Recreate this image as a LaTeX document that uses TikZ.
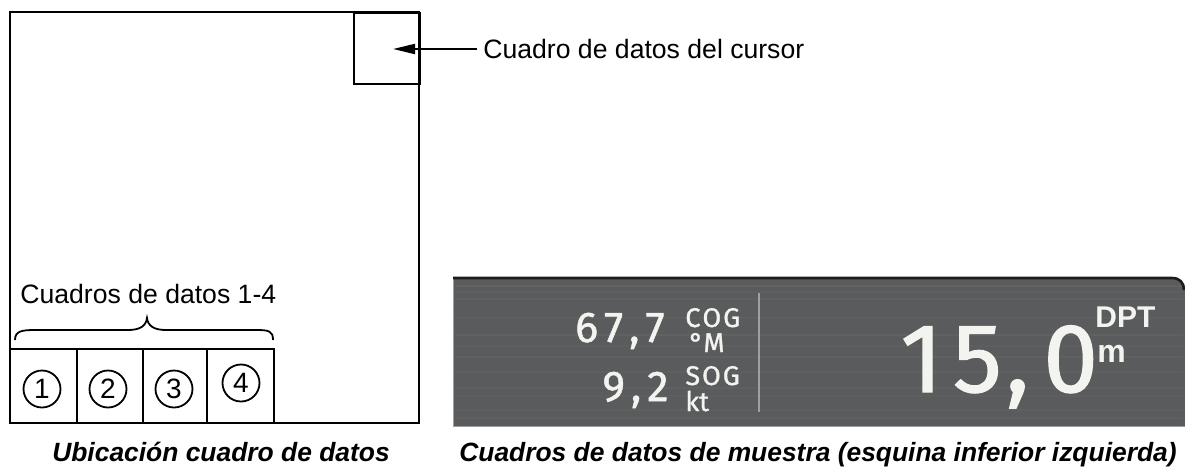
\documentclass[tikz,border=0pt]{standalone}
\usepackage{fontspec}
\setmainfont{Liberation Sans}
\newfontfamily\panelfont[FakeBold=1.2]{Fira Sans}
\usetikzlibrary{arrows.meta}
\definecolor{panelbg}{HTML}{5A5B5D}
\definecolor{panelln}{HTML}{636466}
\definecolor{paneldk}{HTML}{1C1C1C}
\definecolor{paneltxt}{HTML}{F3F3EF}
\definecolor{divln}{HTML}{A0A0A0}
\begin{document}
\begin{tikzpicture}[x=0.5pt,y=-0.5pt,
  frame/.style={draw=black,line width=1pt},
  lbl/.style={font=\fontsize{13.3}{15}\selectfont, inner sep=0pt},
  captext/.style={font=\bfseries\itshape\fontsize{13.2}{15}\selectfont, inner sep=0pt, anchor=base},
  num/.style={circle, draw=black, line width=0.9pt, minimum size=18.5pt, inner sep=0pt, font=\fontsize{14}{14}\selectfont},
  ptxt/.style={text=paneltxt, inner sep=0pt},
  conn/.style={line width=1pt,-{Triangle[length=11pt,width=5pt]}}]
\useasboundingbox (0,0) rectangle (1185,472);
% left diagram
\draw[frame] (10,12) rectangle (419,423);
\node[frame, anchor=north west, minimum width=33pt, minimum height=35.5pt] (cursorbox) at (353,12) {};
\coordinate (arrowtip) at (393,49);
\node[lbl, anchor=west] (cursorlbl) at (483,49) {Cuadro de datos del cursor};
\draw[conn] (cursorlbl.west) ++(-3pt,0) -- (arrowtip);
\foreach \i/\a/\b in {1/10/77,2/77/143,3/143/207,4/207/274}{
  \draw[frame] (\a,349) rectangle (\b,423);
}
\node[num] (n1) at (42,389) {1};
\node[num] (n2) at (108,389) {2};
\node[num] (n3) at (174,389) {3};
\node[num] (n4) at (241,383) {4};
\draw[line width=0.9pt] (15,340) .. controls (15,331) and (22,330) .. (35,330) -- (128,330) .. controls (140,330) and (146,326) .. (147,318) .. controls (148,326) and (154,330) .. (166,330) -- (256,330) .. controls (269,330) and (273,331) .. (273,340);
\node[lbl, anchor=base west] (boxeslbl) at (20,303) {Cuadros de datos 1-4};
% panel
\fill[panelbg] (453,277) -- (1172,277) .. controls (1180,277) and (1185,283) .. (1185,290) -- (1185,426) -- (453,426) -- cycle;
\foreach \y/\o in {286/0.8,292/0.5,299/0.6,318/0.5,335/0.7,346/0.4,357/0.6,372/0.5,388/0.6,396/0.4,410/0.5,418/0.6}{
  \draw[panelln, line width=1pt, opacity=\o] (455,\y) -- (1183,\y);
}
\draw[divln, line width=0.5pt] (453,277) -- (453,426) -- (1185,426);
\draw[paneldk, line width=1.3pt] (453,278) -- (1172,278) .. controls (1180,278) and (1184,283) .. (1184,290);
\draw[divln, line width=0.6pt] (759,293) -- (759,412);
\node[ptxt, anchor=base east, font=\panelfont\fontsize{21.5}{22}\selectfont] (v1) at (665,342) {6\kern3pt 7\kern3pt,\kern3pt 7};
\node[ptxt, anchor=base east, font=\panelfont\fontsize{21.5}{22}\selectfont] (v2) at (669,401) {9\kern3pt,\kern3pt 2};
\node[ptxt, anchor=base west, font=\panelfont\fontsize{13.5}{14}\selectfont] (u1) at (685,327) {C\kern1pt O\kern1pt G};
\node[ptxt, anchor=base west, font=\panelfont\fontsize{13.5}{14}\selectfont] (u2) at (689,352) {°M};
\node[ptxt, anchor=base west, font=\panelfont\fontsize{13.5}{14}\selectfont] (u3) at (685,385) {S\kern1pt O\kern1pt G};
\node[ptxt, anchor=base west, font=\panelfont\fontsize{13.5}{14}\selectfont] (u4) at (685,411) {kt};
\node[ptxt, anchor=base west, font=\panelfont\fontsize{49}{50}\selectfont] (big) at (900,392) {1\kern5pt 5\kern2pt,\kern7pt 0};
\node[ptxt, anchor=base west, font=\bfseries\fontsize{15}{15}\selectfont] (dpt) at (1095,327) {DPT};
\node[ptxt, anchor=base west, font=\bfseries\fontsize{16}{16}\selectfont] (m) at (1097,362) {m};
% captions
\node[captext] (cap1) at (221,461) {Ubicación cuadro de datos};
\node[captext] (cap2) at (818,461) {Cuadros de datos de muestra (esquina inferior izquierda)};
\end{tikzpicture}
\end{document}
